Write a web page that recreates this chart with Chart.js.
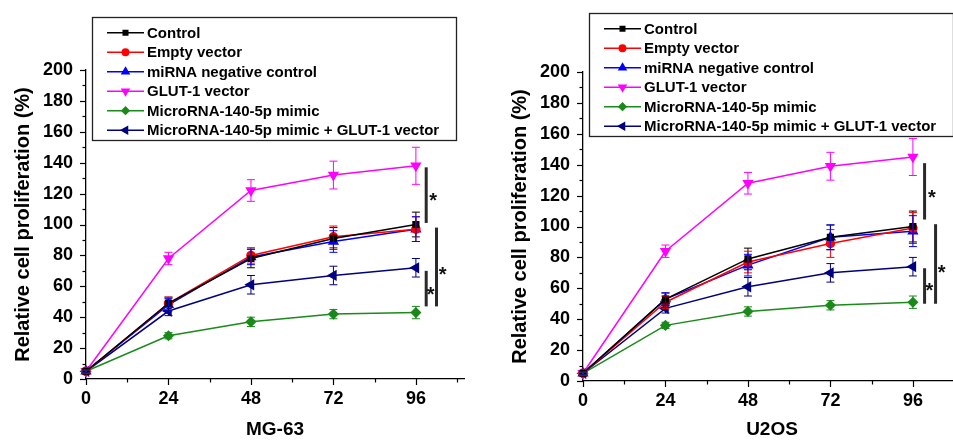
<!DOCTYPE html>
<html><head><meta charset="utf-8">
<script src="https://cdn.jsdelivr.net/npm/chart.js@4.4.0/dist/chart.umd.min.js"></script>
<style>
html,body{margin:0;padding:0;background:#fff;overflow:hidden;width:953px;height:441px;}
.wrap{position:absolute;top:0;width:476px;height:441px;}
#w1{left:0}
#w2{left:497px}
</style></head><body>
<div class="wrap" id="w1"><canvas id="c1" width="476" height="441"></canvas></div>
<div class="wrap" id="w2"><canvas id="c2" width="476" height="441"></canvas></div>
<script>
// ---------- data ----------
const hours = [0, 24, 48, 72, 96];
const yTickValues = [0, 20, 40, 60, 80, 100, 120, 140, 160, 180, 200];
const seriesNames = ["Control", "Empty vector", "miRNA negative control", "GLUT-1 vector",
  "MicroRNA-140-5p mimic", "MicroRNA-140-5p mimic + GLUT-1 vector"];

// MG-63
const mgControl   = [5, 49, 78, 91, 100];
const mgEmpty     = [5, 49, 80, 92, 97];
const mgNegCtrl   = [5, 48, 79, 89, 97];
const mgGlut      = [5, 78, 122, 132, 138];
const mgMimic     = [5, 28, 37, 42, 43];
const mgMimicGlut = [5, 44, 61, 67, 72];
const mgControlErr   = [1, 4, 6, 7, 8];
const mgEmptyErr     = [1, 4, 5, 7, 8];
const mgNegCtrlErr   = [1, 4, 5, 7, 8];
const mgGlutErr      = [1, 4, 7, 9, 12];
const mgMimicErr     = [1, 2, 3, 3, 4];
const mgMimicGlutErr = [1, 3, 6, 6, 6];

// U2OS
const uControl   = [5, 53, 79, 93, 100];
const uEmpty     = [5, 51, 77, 89, 99];
const uNegCtrl   = [5, 53, 75, 93, 97];
const uGlut      = [5, 84, 128, 139, 145];
const uMimic     = [5, 36, 45, 49, 51];
const uMimicGlut = [5, 47, 61, 70, 74];
const uControlErr   = [1, 4, 7, 8, 10];
const uEmptyErr     = [1, 4, 7, 9, 10];
const uNegCtrlErr   = [1, 4, 7, 8, 10];
const uGlutErr      = [1, 4, 7, 9, 12];
const uMimicErr     = [1, 2, 3, 3, 4];
const uMimicGlutErr = [1, 3, 6, 6, 6];

// significance annotations (data units)
const mgSigBars  = [[99, 137, 101], [102, 98, 47], [99, 70, 47]];
const mgSigStars = [[101, 118], [103.8, 70], [100.3, 57.5]];
const uSigBars   = [[99.4, 141, 104.5], [102.6, 101.5, 50], [99.4, 73, 50]];
const uSigStars  = [[101.5, 121.5], [104.4, 73], [100.8, 61]];

// ---------- styles ----------
const colors = ["#000000", "#ff0000", "#0000ff", "#ff00ff", "#1a8a1a", "#000080"];
const styles = [
  {pointStyle: "rect", rotation: 0, radius: 4},
  {pointStyle: "circle", rotation: 0, radius: 4},
  {pointStyle: "triangle", rotation: 0, radius: 5},
  {pointStyle: "triangle", rotation: 180, radius: 5},
  {pointStyle: "rectRot", rotation: 0, radius: 4.5},
  {pointStyle: "triangle", rotation: -90, radius: 5}
];
const FONT = "'Liberation Sans', Arial, sans-serif";

// ---------- plugins ----------
const axisTicks = {
  id: "axisTicks",
  afterDraw(chart) {
    const {ctx, scales: {x, y}} = chart;
    ctx.save();
    ctx.strokeStyle = "#000";
    ctx.lineWidth = 1.2;
    for (let v = 0; v <= 108; v += 12) {
      const px = Math.round(x.getPixelForValue(v)) + 0.5;
      const len = v % 24 === 0 ? 6 : 3.5;
      ctx.beginPath(); ctx.moveTo(px, y.bottom); ctx.lineTo(px, y.bottom + len); ctx.stroke();
    }
    for (let v = 0; v <= 200; v += 10) {
      const py = Math.round(y.getPixelForValue(v)) + 0.5;
      const len = v % 20 === 0 ? 6 : 3.5;
      ctx.beginPath(); ctx.moveTo(x.left, py); ctx.lineTo(x.left - len, py); ctx.stroke();
    }
    ctx.restore();
  }
};

const errorBars = {
  id: "errorBars",
  afterDatasetsDraw(chart) {
    const {ctx, scales: {y}} = chart;
    ctx.save();
    chart.data.datasets.forEach((ds, i) => {
      const meta = chart.getDatasetMeta(i);
      ctx.strokeStyle = ds.borderColor;
      ctx.lineWidth = 1;
      meta.data.forEach((pt, j) => {
        const e = ds.errors[j];
        if (!e) return;
        const d = ds.data[j];
        const v = typeof d === "object" ? d.y : d;
        const yt = y.getPixelForValue(v + e), yb = y.getPixelForValue(v - e);
        const x = pt.x;
        ctx.beginPath();
        ctx.moveTo(x, yt); ctx.lineTo(x, yb);
        ctx.moveTo(x - 4, yt); ctx.lineTo(x + 4, yt);
        ctx.moveTo(x - 4, yb); ctx.lineTo(x + 4, yb);
        ctx.stroke();
      });
    });
    ctx.restore();
  }
};

const sigMarks = {
  id: "sigMarks",
  afterDraw(chart, args, opts) {
    const {ctx, scales: {x, y}} = chart;
    ctx.save();
    ctx.strokeStyle = "#2a2a2a";
    ctx.lineWidth = 3;
    opts.bars.forEach(b => {
      const px = x.getPixelForValue(b[0]);
      ctx.beginPath();
      ctx.moveTo(px, y.getPixelForValue(b[1]));
      ctx.lineTo(px, y.getPixelForValue(b[2]));
      ctx.stroke();
    });
    ctx.fillStyle = "#111";
    ctx.font = "bold 20px " + FONT;
    ctx.textAlign = "center";
    ctx.textBaseline = "middle";
    opts.stars.forEach(s => {
      ctx.fillText("*", x.getPixelForValue(s[0]), y.getPixelForValue(s[1]) + 5);
    });
    ctx.restore();
  }
};

const boxLegend = {
  id: "boxLegend",
  afterDraw(chart, args, opts) {
    const {ctx} = chart;
    const top = opts.top;
    ctx.save();
    ctx.strokeStyle = "#222";
    ctx.lineWidth = 1.3;
    ctx.strokeRect(92.5, top + 0.5, 364, 123);
    ctx.font = "bold 15px " + FONT;
    ctx.textBaseline = "middle";
    ctx.textAlign = "left";
    chart.data.datasets.forEach((ds, i) => {
      const cy = top + 15.7 + i * 19.5;
      ctx.strokeStyle = ds.borderColor;
      ctx.lineWidth = 1.5;
      ctx.beginPath(); ctx.moveTo(107, cy); ctx.lineTo(144, cy); ctx.stroke();
      ctx.fillStyle = ds.borderColor;
      Chart.helpers.drawPoint(ctx, {pointStyle: ds.pointStyle, rotation: ds.pointRotation, radius: ds.pointRadius * 0.8, borderWidth: 1}, 125.5, cy);
      ctx.fillStyle = "#000";
      ctx.fillText(ds.label, 147, cy + 1);
    });
    ctx.restore();
  }
};

function makeChart(id, title, series, errs, bars, stars, plotTop, plotBottom, legendTop) {
  const datasets = series.map((d, i) => ({
    label: seriesNames[i],
    data: d,
    errors: errs[i],
    borderColor: colors[i],
    backgroundColor: colors[i],
    pointBackgroundColor: colors[i],
    pointBorderColor: colors[i],
    pointStyle: styles[i].pointStyle,
    pointRotation: styles[i].rotation,
    pointRadius: styles[i].radius,
    borderWidth: 1.5,
    tension: 0,
    clip: false
  }));
  return new Chart(document.getElementById(id), {
    type: "line",
    data: {datasets: datasets},
    options: {
      responsive: false,
      animation: false,
      events: [],
      layout: {padding: {top: plotTop, right: 12, left: 0, bottom: 0}},
      plugins: {
        legend: {display: false},
        tooltip: {enabled: false},
        boxLegend: {top: legendTop},
        sigMarks: {bars: bars, stars: stars}
      },
      scales: {
        x: {
          type: "linear", min: 0, max: 110,
          afterBuildTicks: s => { s.ticks = hours.map(v => ({value: v})); },
          afterFit: s => { s.height = 441 - plotBottom; },
          grid: {display: true, drawOnChartArea: false, drawTicks: true, tickLength: 6, tickColor: "rgba(0,0,0,0)"},
          border: {display: true, color: "#000", width: 1.3},
          ticks: {color: "#000", font: {family: FONT, size: 18, weight: "bold"}, padding: 3, maxRotation: 0, autoSkip: false},
          title: {display: true, text: title, color: "#000", font: {family: FONT, size: 19, weight: "bold"}, padding: {top: 0, bottom: 0}}
        },
        y: {
          type: "linear", min: 0, max: 200,
          afterBuildTicks: s => { s.ticks = yTickValues.map(v => ({value: v})); },
          afterFit: s => { s.width = 86; },
          grid: {display: true, drawOnChartArea: false, drawTicks: true, tickLength: 6, tickColor: "rgba(0,0,0,0)"},
          border: {display: true, color: "#000", width: 1.3},
          ticks: {color: "#000", font: {family: FONT, size: 18, weight: "bold"}, padding: 7, autoSkip: false},
          title: {display: true, text: "Relative cell proliferation (%)", color: "#000", font: {family: FONT, size: 20, weight: "bold"}, padding: {top: 11, bottom: 0}}
        }
      }
    },
    plugins: [axisTicks, errorBars, sigMarks, boxLegend]
  });
}

// pair each value with its hour for the linear x axis
function pts(arr) { return arr.map((v, i) => ({x: hours[i], y: v})); }

makeChart("c1", "MG-63",
  [mgControl, mgEmpty, mgNegCtrl, mgGlut, mgMimic, mgMimicGlut].map(pts),
  [mgControlErr, mgEmptyErr, mgNegCtrlErr, mgGlutErr, mgMimicErr, mgMimicGlutErr],
  mgSigBars, mgSigStars, 70, 379, 17);
makeChart("c2", "U2OS",
  [uControl, uEmpty, uNegCtrl, uGlut, uMimic, uMimicGlut].map(pts),
  [uControlErr, uEmptyErr, uNegCtrlErr, uGlutErr, uMimicErr, uMimicGlutErr],
  uSigBars, uSigStars, 72, 381, 13);
</script>
</body></html>
